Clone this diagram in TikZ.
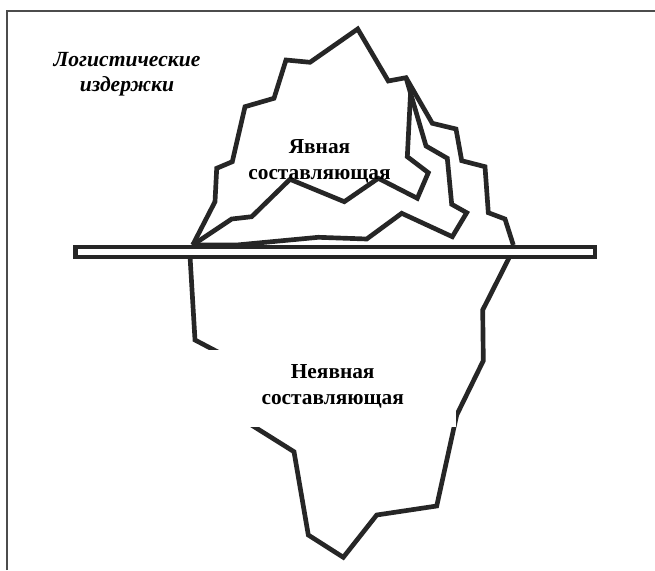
\documentclass[tikz,border=0pt]{standalone}
\usepackage{fontspec}
\setmainfont{Liberation Serif}
\tikzset{
  ice/.style={draw=black!85,line width=3.5pt,line join=miter,miter limit=3},
  bar/.style={draw=black!85,fill=white,line width=3.3pt},
  lbl/.style={align=center,font=\fontsize{16}{19.5}\selectfont\bfseries,inner sep=0pt},
  ttl/.style={align=center,font=\fontsize{16.2}{18.8}\selectfont\bfseries\itshape,inner sep=0pt}
}
\begin{document}
\begin{tikzpicture}[x=0.75pt,y=-0.75pt]
\useasboundingbox (0,0) rectangle (655,570);
\fill[white] (0,0) rectangle (655,570);
\draw[draw=black!70,line width=1.5pt] (7,570) -- (7,11) -- (655,11);
\draw[ice] (192.7,245) -- (215,201.7) -- (216.7,168.3) -- (232.3,161.7) -- (245,106.7) -- (274,98.3) -- (286,60) -- (310,62.3) -- (357.7,29) -- (388.3,81) -- (406,77.7) -- (432.3,123.3) -- (456,129) -- (461.7,160.7) -- (485,166.7) -- (488.3,212.7) -- (505,219) -- (513.3,245);
\draw[ice] (192.7,245) -- (231.7,219) -- (251.7,216.7) -- (290,179.3) -- (344.3,201.7) -- (378.3,178.3) -- (417.3,198.3) -- (428.3,172.7) -- (407.3,156.7) -- (410.7,90);
\draw[ice] (406,77.7) -- (426,146) -- (447.3,158.3) -- (451.7,204.3) -- (466.7,212.7) -- (452.3,236.7) -- (401.7,213.3) -- (366.7,239) -- (318.3,237.3) -- (236.7,245) -- (192.7,245);
\draw[ice] (190,256) -- (195,340) -- (235,361) -- (235,414.7) -- (294,451.7) -- (308.3,535) -- (343.3,557.3) -- (376.7,515) -- (436.7,506) -- (456.7,415) -- (483.3,360.7) -- (482.7,310) -- (510,256);
\fill[white] (200,349.6) rectangle (456,427);
\draw[bar] (75.5,246.7) rectangle (595,257);
\node[lbl] (yav) at (319.5,161.5) {Явная\\[0pt]составляющая};
\node[lbl] (neyav) at (332.7,386.5) {Неявная\\[0pt]составляющая};
\node[ttl] (title) at (127,74) {Логистические\\[0pt]издержки};
\end{tikzpicture}
\end{document}
